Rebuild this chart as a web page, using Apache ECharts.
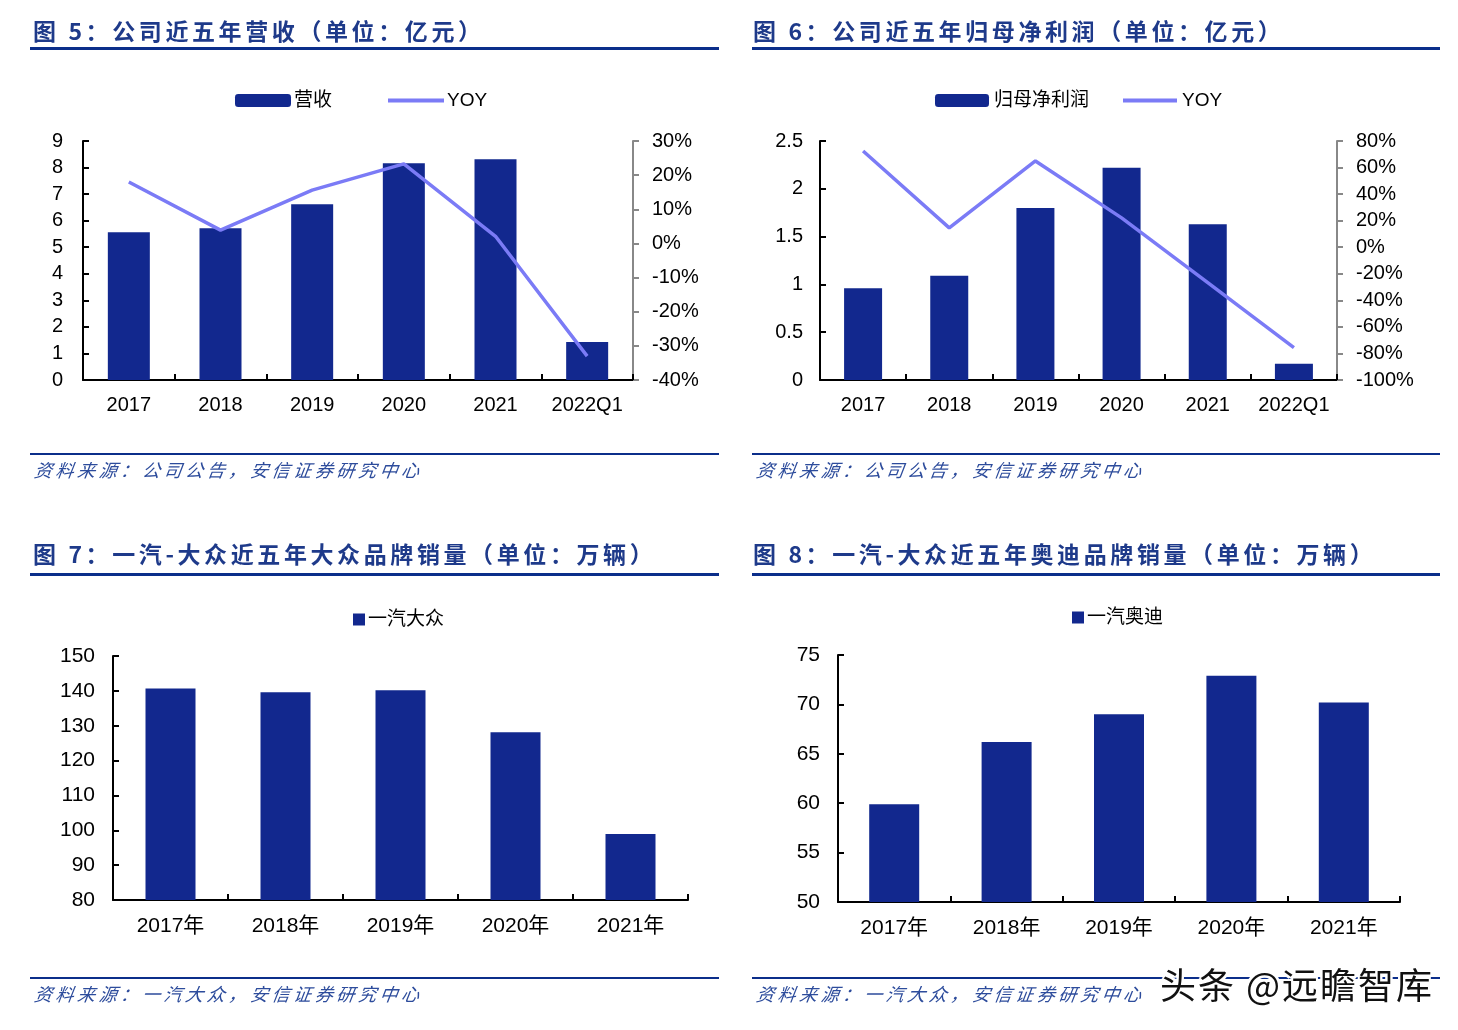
<!DOCTYPE html>
<html>
<head>
<meta charset="utf-8">
<script src="https://cdn.jsdelivr.net/npm/echarts@6/dist/echarts.min.js"></script>
<style>
  html, body { margin: 0; padding: 0; background: #fff; }
  #wrap { position: relative; width: 1458px; height: 1030px; overflow: hidden; }
  #chart { position: absolute; left: 0; top: 0; width: 1458px; height: 1030px; }
  .title { position: absolute; font-family: "Noto Sans CJK SC", sans-serif; font-weight: 700; font-size: 23px; color: #1E3A8A; letter-spacing: 3.6px; white-space: nowrap; line-height: 28px; }
  .rule { position: absolute; height: 3px; background: #0B2E8A; }
  .src { position: absolute; font-family: "Noto Sans CJK SC", sans-serif; font-style: italic; font-size: 18px; color: #2D4C9C; letter-spacing: 3.6px; white-space: nowrap; line-height: 22px; transform: skewX(-8deg); transform-origin: left bottom; }
  .wm { position: absolute; font-family: "Noto Sans CJK SC", sans-serif; font-size: 36px; color: #111; white-space: nowrap; line-height: 40px; letter-spacing: 2px;
        text-shadow: -2px 0 #fff, 2px 0 #fff, 0 -2px #fff, 0 2px #fff, -2px -2px #fff, 2px 2px #fff, -2px 2px #fff, 2px -2px #fff; }
</style>
</head>
<body>
<div id="wrap">
  <div id="chart"></div>
  <div class="title" style="left:33px;top:16px;">图 5：公司近五年营收（单位：亿元）</div>
  <div class="rule" style="left:30px;top:47px;width:689px;"></div>
  <div class="title" style="left:753px;top:16px;">图 6：公司近五年归母净利润（单位：亿元）</div>
  <div class="rule" style="left:752px;top:47px;width:688px;"></div>

  <div class="rule" style="left:30px;top:453px;width:689px;height:2px;"></div>
  <div class="src" style="left:33px;top:458px;">资料来源：公司公告，安信证券研究中心</div>
  <div class="rule" style="left:752px;top:453px;width:688px;height:2px;"></div>
  <div class="src" style="left:755px;top:458px;">资料来源：公司公告，安信证券研究中心</div>

  <div class="title" style="left:33px;top:539px;">图 7：一汽-大众近五年大众品牌销量（单位：万辆）</div>
  <div class="rule" style="left:30px;top:573px;width:689px;"></div>
  <div class="title" style="left:753px;top:539px;">图 8：一汽-大众近五年奥迪品牌销量（单位：万辆）</div>
  <div class="rule" style="left:752px;top:573px;width:688px;"></div>

  <div class="rule" style="left:30px;top:977px;width:689px;height:2px;"></div>
  <div class="src" style="left:33px;top:982px;">资料来源：一汽大众，安信证券研究中心</div>
  <div class="rule" style="left:752px;top:977px;width:688px;height:2px;"></div>
  <div class="src" style="left:755px;top:982px;">资料来源：一汽大众，安信证券研究中心</div>

  <div class="wm" style="left:1160px;top:963px;">头条 @远瞻智库</div>
</div>
<script>
// ---- Data ----
const cats1 = ['2017', '2018', '2019', '2020', '2021', '2022Q1'];
const revenue = [5.56, 5.71, 6.62, 8.16, 8.31, 1.43];
const revenueYoy = [18.0, 3.9, 15.6, 23.3, 2.1, -33.0];

const cats2 = ['2017', '2018', '2019', '2020', '2021', '2022Q1'];
const netProfit = [0.96, 1.09, 1.80, 2.22, 1.63, 0.17];
const netProfitYoy = [72.5, 14.6, 65.0, 22.1, -26.6, -75.6];

const cats3 = ['2017年', '2018年', '2019年', '2020年', '2021年'];
const vwSales = [140.7, 139.6, 140.2, 128.1, 98.9];

const cats4 = ['2017年', '2018年', '2019年', '2020年', '2021年'];
const audiSales = [59.9, 66.2, 69.0, 72.9, 70.2];

// ---- Styles ----
const BAR = '#12288E';
const LINE = '#7B7BF6';
const FONT = '"Liberation Sans", Arial, "Noto Sans CJK SC", sans-serif';
const lbl = (m, extra) => Object.assign({ color: '#000', fontSize: 20, fontFamily: FONT, margin: m }, extra || {});

function catAxis(gi, data, m, fs) {
  return {
    type: 'category', gridIndex: gi, data: data, boundaryGap: true,
    axisLine: { lineStyle: { color: '#000', width: 2 } },
    axisTick: { show: true, inside: true, length: 6, interval: 0, lineStyle: { color: '#000', width: 2 }, alignWithLabel: false },
    axisLabel: lbl(m, { interval: 0, fontSize: fs || 20 }),
    splitLine: { show: false }
  };
}
function valAxis(gi, min, max, interval, m, opts) {
  opts = opts || {};
  return Object.assign({
    type: 'value', gridIndex: gi, min: min, max: max, interval: interval,
    axisLine: { show: true, lineStyle: { color: opts.color || '#000', width: 2 } },
    axisTick: { show: true, inside: !opts.outside, length: 6, lineStyle: { color: opts.color || '#000', width: 2 } },
    axisLabel: lbl(m, Object.assign(opts.fmt ? { formatter: opts.fmt } : {}, opts.fs ? { fontSize: opts.fs } : {})),
    splitLine: { show: false }
  }, opts.pos ? { position: opts.pos } : {});
}

const yoyLegendItem = { name: 'YOY', itemStyle: { opacity: 0, color: 'transparent', borderWidth: 0 }, lineStyle: { color: LINE, width: 4, opacity: 1 } };

const chart = echarts.init(document.getElementById('chart'), null, { renderer: 'canvas' });
chart.setOption({
  animation: false,
  backgroundColor: 'transparent',
  grid: [
    { left: 83, top: 141, width: 550, height: 239 },
    { left: 820, top: 141, width: 517, height: 239 },
    { left: 113, top: 656, width: 575, height: 244 },
    { left: 838, top: 655, width: 562, height: 247 }
  ],
  legend: [
    { left: 230, top: 86, itemWidth: 56, itemHeight: 13, itemGap: 54,
      textStyle: { fontSize: 19, color: '#000', fontFamily: FONT, padding: [0, 0, 0, -2] },
      data: [{ name: '营收', icon: 'roundRect' }, yoyLegendItem] },
    { left: 930, top: 86, itemWidth: 54, itemHeight: 13, itemGap: 32,
      textStyle: { fontSize: 19, color: '#000', fontFamily: FONT },
      data: [{ name: '归母净利润', icon: 'roundRect' }, yoyLegendItem] },
    { left: 348, top: 605, itemWidth: 12, itemHeight: 12, icon: 'rect',
      textStyle: { fontSize: 19, color: '#000', fontFamily: FONT, padding: [0, 0, 0, -2] },
      data: ['一汽大众'] },
    { left: 1067, top: 603, itemWidth: 12, itemHeight: 12, icon: 'rect',
      textStyle: { fontSize: 19, color: '#000', fontFamily: FONT, padding: [0, 0, 0, -2] },
      data: ['一汽奥迪'] }
  ],
  xAxis: [
    catAxis(0, cats1, 15),
    catAxis(1, cats2, 15),
    catAxis(2, cats3, 16, 21),
    catAxis(3, cats4, 16, 21)
  ],
  yAxis: [
    valAxis(0, 0, 9, 1, 20),
    valAxis(0, -40, 30, 10, 19, { pos: 'right', color: '#888', outside: true, fmt: '{value}%' }),
    valAxis(1, 0, 2.5, 0.5, 17),
    valAxis(1, -100, 80, 20, 19, { pos: 'right', color: '#888', outside: true, fmt: '{value}%' }),
    valAxis(2, 80, 150, 10, 18, { fs: 21 }),
    valAxis(3, 50, 75, 5, 18, { fs: 21 })
  ],
  series: [
    { name: '营收', type: 'bar', xAxisIndex: 0, yAxisIndex: 0, data: revenue, barWidth: 42, itemStyle: { color: BAR } },
    { name: 'YOY', type: 'line', xAxisIndex: 0, yAxisIndex: 1, data: revenueYoy, symbol: 'none', lineStyle: { color: LINE, width: 3.5 }, itemStyle: { color: LINE } },
    { name: '归母净利润', type: 'bar', xAxisIndex: 1, yAxisIndex: 2, data: netProfit, barWidth: 38, itemStyle: { color: BAR } },
    { name: 'YOY', type: 'line', xAxisIndex: 1, yAxisIndex: 3, data: netProfitYoy, symbol: 'none', lineStyle: { color: LINE, width: 3.5 }, itemStyle: { color: LINE } },
    { name: '一汽大众', type: 'bar', xAxisIndex: 2, yAxisIndex: 4, data: vwSales, barWidth: 50, itemStyle: { color: BAR } },
    { name: '一汽奥迪', type: 'bar', xAxisIndex: 3, yAxisIndex: 5, data: audiSales, barWidth: 50, itemStyle: { color: BAR } }
  ]
});
</script>
</body>
</html>
